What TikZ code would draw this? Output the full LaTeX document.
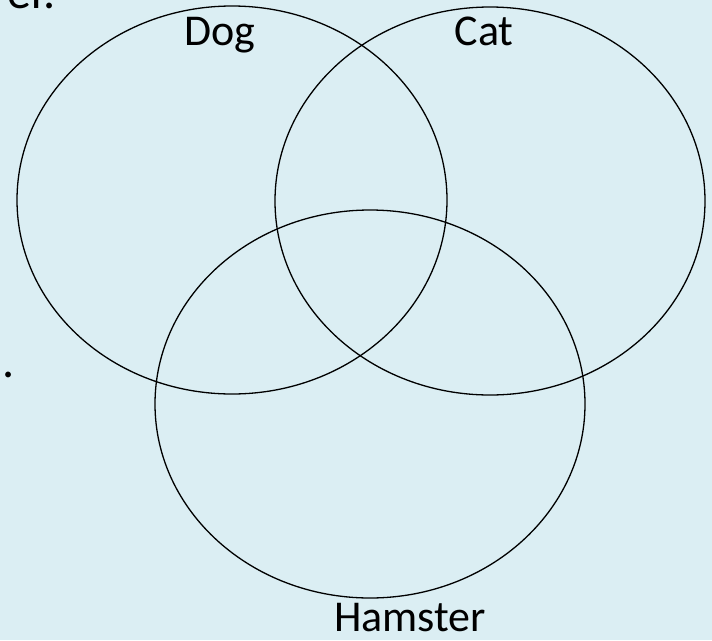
\documentclass[tikz,border=0pt]{standalone}
\usepackage{fontspec}
\setmainfont{Carlito}
\usetikzlibrary{shapes.geometric}
\definecolor{slidebg}{RGB}{219,238,243}
\tikzset{
  setcircle/.style={ellipse, draw=black, line width=1.3pt, minimum width=430pt, minimum height=388pt, inner sep=0pt},
  setlabel/.style={font=\fontsize{44}{44}\selectfont, inner sep=0pt, text=black},
  fragment/.style={font=\fontsize{48}{48}\selectfont, inner sep=0pt, text=black}
}
\begin{document}
\begin{tikzpicture}[x=1pt, y=-1pt]
  \useasboundingbox (0,0) rectangle (712,640);
  \fill[slidebg] (0,0) rectangle (712,640);
  \clip (0,0) rectangle (712,640);
  % fragments of slide text behind the diagram
  \node[fragment, anchor=base east] (frag1) at (56,8) {er.};
  \node[fragment, anchor=base west] (frag2) at (2,377) {.};
  % sets
  \node[setcircle] (dog) at (232,200) {};
  \node[setcircle] (cat) at (490,201) {};
  \node[setcircle] (hamster) at (370,404) {};
  % labels
  \node[setlabel, anchor=base] (doglabel) at (220,45) {Dog};
  \node[setlabel, anchor=base] (catlabel) at (484,45) {Cat};
  \node[setlabel, anchor=base] (hamsterlabel) at (410,631) {Hamster};
\end{tikzpicture}
\end{document}
